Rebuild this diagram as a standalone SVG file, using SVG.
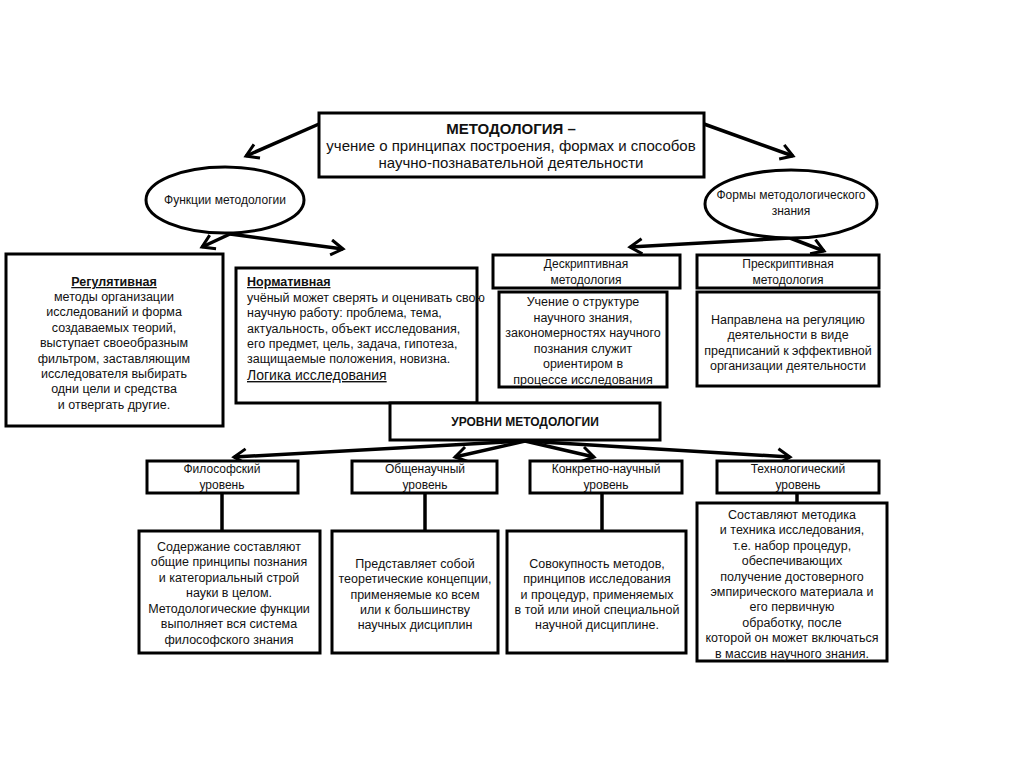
<svg xmlns="http://www.w3.org/2000/svg" width="1024" height="767" viewBox="0 0 1024 767">
<defs>
<style>
.box{fill:#fff;stroke:#000;stroke-width:3}
.t{font-family:"Liberation Sans",Arial,sans-serif;font-size:12.5px;fill:#111;text-anchor:middle}
.l{text-anchor:start}
.b{font-weight:bold}
.u{text-decoration:underline}
.h{font-size:14px}
.ht{font-size:15px}
.n{font-size:12px}
.con{fill:none;stroke:#000;stroke-width:3.5}
</style>
<marker id="ah" markerUnits="userSpaceOnUse" markerWidth="20" markerHeight="20" refX="14" refY="9" orient="auto">
<path d="M2,1.5 L14,9 L2,16.5" fill="none" stroke="#000" stroke-width="3"/>
</marker>
</defs>
<rect width="1024" height="767" fill="#fff"/>

<g id="connectors">
<path class="con" d="M319,124 L246,156" marker-end="url(#ah)"/>
<path class="con" d="M704,124 L793,156" marker-end="url(#ah)"/>
<path class="con" d="M230,234 L202,247" marker-end="url(#ah)"/>
<path class="con" d="M230,234 L343,249" marker-end="url(#ah)"/>
<path class="con" d="M790,238 L630,247" marker-end="url(#ah)"/>
<path class="con" d="M790,238 L824,251" marker-end="url(#ah)"/>
<path class="con" d="M525,441 L234,457" marker-end="url(#ah)"/>
<path class="con" d="M525,441 L455,457" marker-end="url(#ah)"/>
<path class="con" d="M525,441 L594,457" marker-end="url(#ah)"/>
<path class="con" d="M525,441 L790,457" marker-end="url(#ah)"/>
<path class="con" d="M222,493 V531"/>
<path class="con" d="M425,493 V531"/>
<path class="con" d="M602,493 V531"/>
<path class="con" d="M797,493 V503"/>
</g>

<g id="title">
<rect class="box" x="319" y="113" width="385" height="64"/>
<text class="t b ht" x="511" y="134">МЕТОДОЛОГИЯ –</text>
<text class="t ht" x="511" y="151">учение о принципах построения, формах и способов</text>
<text class="t ht" x="511" y="168">научно-познавательной деятельности</text>
</g>

<g id="functions">
<ellipse cx="225" cy="200" rx="79" ry="33" fill="#fff" stroke="#000" stroke-width="3"/>
<text class="t n" x="225" y="204">Функции методологии</text>
</g>

<g id="forms">
<ellipse cx="791" cy="204" rx="86" ry="34" fill="#fff" stroke="#000" stroke-width="3"/>
<text class="t n" x="791" y="199">Формы методологического</text>
<text class="t n" x="791" y="215">знания</text>
</g>

<g id="regulative">
<rect class="box" x="6" y="254" width="217" height="172"/>
<text class="t b u" x="114" y="286">Регулятивная</text>
<text class="t" x="114" y="301">методы организации</text>
<text class="t" x="114" y="316">исследований и форма</text>
<text class="t" x="114" y="332">создаваемых теорий,</text>
<text class="t" x="114" y="347">выступает своеобразным</text>
<text class="t" x="114" y="363">фильтром, заставляющим</text>
<text class="t" x="114" y="378">исследователя выбирать</text>
<text class="t" x="114" y="393">одни цели и средства</text>
<text class="t" x="114" y="409">и отвергать другие.</text>
</g>

<g id="normative">
<rect class="box" x="236" y="268" width="241" height="135"/>
<text class="t l b u" x="247" y="286">Нормативная</text>
<text class="t l" x="247" y="302">учёный может сверять и оценивать свою</text>
<text class="t l" x="247" y="317">научную работу: проблема, тема,</text>
<text class="t l" x="247" y="333">актуальность, объект исследования,</text>
<text class="t l" x="247" y="348">его предмет, цель, задача, гипотеза,</text>
<text class="t l" x="247" y="363">защищаемые положения, новизна.</text>
<text class="t l u h" x="247" y="380">Логика исследования</text>
</g>

<g id="descriptive">
<rect class="box" x="493" y="255" width="187" height="33"/>
<text class="t n" x="586" y="268">Дескриптивная</text>
<text class="t n" x="586" y="284">методология</text>
</g>

<g id="descriptive-body">
<rect class="box" x="499" y="292" width="168" height="95"/>
<text class="t" x="583" y="306">Учение о структуре</text>
<text class="t" x="583" y="322">научного знания,</text>
<text class="t" x="583" y="337">закономерностях научного</text>
<text class="t" x="583" y="353">познания служит</text>
<text class="t" x="583" y="368">ориентиром в</text>
<text class="t" x="583" y="384">процессе исследования</text>
</g>

<g id="prescriptive">
<rect class="box" x="697" y="255" width="182" height="33"/>
<text class="t n" x="788" y="268">Прескриптивная</text>
<text class="t n" x="788" y="284">методология</text>
</g>

<g id="prescriptive-body">
<rect class="box" x="697" y="292" width="182" height="94"/>
<text class="t" x="788" y="324">Направлена на регуляцию</text>
<text class="t" x="788" y="339">деятельности в виде</text>
<text class="t" x="788" y="355">предписаний к эффективной</text>
<text class="t" x="788" y="370">организации деятельности</text>
</g>

<g id="levels">
<rect class="box" x="390" y="403" width="270" height="37"/>
<text class="t b n" x="525" y="426">УРОВНИ МЕТОДОЛОГИИ</text>
</g>

<g id="level-philosophical">
<rect class="box" x="147" y="461" width="151" height="32"/>
<text class="t n" x="222" y="473">Философский</text>
<text class="t n" x="222" y="489">уровень</text>
</g>
<g id="level-general">
<rect class="box" x="352" y="461" width="145" height="32"/>
<text class="t n" x="425" y="473">Общенаучный</text>
<text class="t n" x="425" y="489">уровень</text>
</g>
<g id="level-concrete">
<rect class="box" x="530" y="461" width="152" height="32"/>
<text class="t n" x="606" y="473">Конкретно-научный</text>
<text class="t n" x="606" y="489">уровень</text>
</g>
<g id="level-technological">
<rect class="box" x="717" y="461" width="162" height="32"/>
<text class="t n" x="798" y="473">Технологический</text>
<text class="t n" x="798" y="489">уровень</text>
</g>

<g id="philosophical-body">
<rect class="box" x="139" y="531" width="181" height="122"/>
<text class="t" x="229" y="551">Содержание составляют</text>
<text class="t" x="229" y="566">общие принципы познания</text>
<text class="t" x="229" y="582">и категориальный строй</text>
<text class="t" x="229" y="597">науки в целом.</text>
<text class="t" x="229" y="613">Методологические функции</text>
<text class="t" x="229" y="628">выполняет вся система</text>
<text class="t" x="229" y="644">философского знания</text>
</g>

<g id="general-body">
<rect class="box" x="332" y="531" width="166" height="122"/>
<text class="t" x="415" y="568">Представляет собой</text>
<text class="t" x="415" y="583">теоретические концепции,</text>
<text class="t" x="415" y="599">применяемые ко всем</text>
<text class="t" x="415" y="614">или к большинству</text>
<text class="t" x="415" y="629">научных дисциплин</text>
</g>

<g id="concrete-body">
<rect class="box" x="507" y="531" width="179" height="122"/>
<text class="t" x="597" y="568">Совокупность методов,</text>
<text class="t" x="597" y="583">принципов исследования</text>
<text class="t" x="597" y="599">и процедур, применяемых</text>
<text class="t" x="597" y="614">в той или иной специальной</text>
<text class="t" x="597" y="629">научной дисциплине.</text>
</g>

<g id="technological-body">
<rect class="box" x="697" y="503" width="190" height="158"/>
<text class="t" x="792" y="519">Составляют методика</text>
<text class="t" x="792" y="534">и техника исследования,</text>
<text class="t" x="792" y="550">т.е. набор процедур,</text>
<text class="t" x="792" y="565">обеспечивающих</text>
<text class="t" x="792" y="581">получение достоверного</text>
<text class="t" x="792" y="596">эмпирического материала и</text>
<text class="t" x="792" y="611">его первичную</text>
<text class="t" x="792" y="627">обработку, после</text>
<text class="t" x="792" y="642">которой он может включаться</text>
<text class="t" x="792" y="658">в массив научного знания.</text>
</g>
</svg>
